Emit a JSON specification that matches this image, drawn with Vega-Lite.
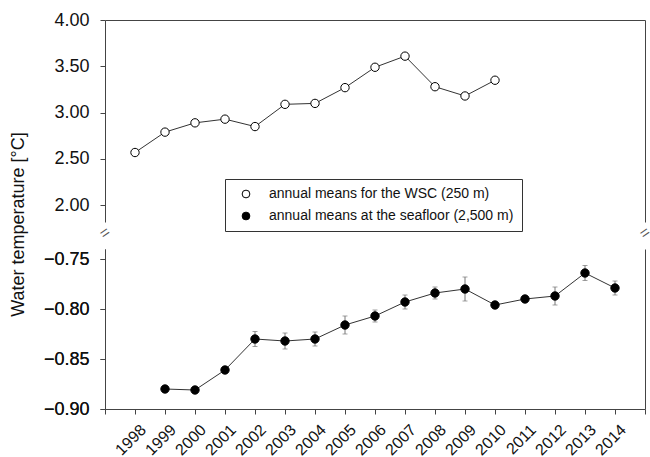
{
  "$schema": "https://vega.github.io/schema/vega-lite/v6.json",
  "padding": {"left": 9, "top": 11, "right": 0, "bottom": 0},
  "bounds": "flush",
  "spacing": 27,
  "config": {
    "view": {"stroke": null},
    "font": "Liberation Sans",
    "axis": {
      "labelFont": "Liberation Sans",
      "titleFont": "Liberation Sans",
      "labelColor": "#111",
      "titleColor": "#111",
      "domain": true,
      "domainColor": "#444",
      "domainWidth": 1,
      "tickColor": "#444",
      "grid": false,
      "labelFontSize": 18,
      "titleFontSize": 18,
      "titleFontWeight": "normal",
      "tickSize": 5,
      "labelOverlap": false,
      "labelBound": false,
      "labelFlush": false
    }
  },
  "datasets": {
    "wsc": [
      {"year": 1998, "temp": 2.57, "series": "annual means for the WSC  (250 m)"},
      {"year": 1999, "temp": 2.79, "series": "annual means for the WSC  (250 m)"},
      {"year": 2000, "temp": 2.89, "series": "annual means for the WSC  (250 m)"},
      {"year": 2001, "temp": 2.93, "series": "annual means for the WSC  (250 m)"},
      {"year": 2002, "temp": 2.85, "series": "annual means for the WSC  (250 m)"},
      {"year": 2003, "temp": 3.09, "series": "annual means for the WSC  (250 m)"},
      {"year": 2004, "temp": 3.10, "series": "annual means for the WSC  (250 m)"},
      {"year": 2005, "temp": 3.27, "series": "annual means for the WSC  (250 m)"},
      {"year": 2006, "temp": 3.49, "series": "annual means for the WSC  (250 m)"},
      {"year": 2007, "temp": 3.61, "series": "annual means for the WSC  (250 m)"},
      {"year": 2008, "temp": 3.28, "series": "annual means for the WSC  (250 m)"},
      {"year": 2009, "temp": 3.18, "series": "annual means for the WSC  (250 m)"},
      {"year": 2010, "temp": 3.35, "series": "annual means for the WSC  (250 m)"}
    ],
    "floor": [
      {"year": 1999, "temp": -0.880, "err": 0, "series": "annual means at the seafloor (2,500 m)"},
      {"year": 2000, "temp": -0.881, "err": 0, "series": "annual means at the seafloor (2,500 m)"},
      {"year": 2001, "temp": -0.861, "err": 0, "series": "annual means at the seafloor (2,500 m)"},
      {"year": 2002, "temp": -0.830, "err": 0.0075, "series": "annual means at the seafloor (2,500 m)"},
      {"year": 2003, "temp": -0.832, "err": 0.008, "series": "annual means at the seafloor (2,500 m)"},
      {"year": 2004, "temp": -0.830, "err": 0.007, "series": "annual means at the seafloor (2,500 m)"},
      {"year": 2005, "temp": -0.816, "err": 0.009, "series": "annual means at the seafloor (2,500 m)"},
      {"year": 2006, "temp": -0.807, "err": 0.006, "series": "annual means at the seafloor (2,500 m)"},
      {"year": 2007, "temp": -0.793, "err": 0.007, "series": "annual means at the seafloor (2,500 m)"},
      {"year": 2008, "temp": -0.784, "err": 0.006, "series": "annual means at the seafloor (2,500 m)"},
      {"year": 2009, "temp": -0.780, "err": 0.012, "series": "annual means at the seafloor (2,500 m)"},
      {"year": 2010, "temp": -0.796, "err": 0, "series": "annual means at the seafloor (2,500 m)"},
      {"year": 2011, "temp": -0.790, "err": 0, "series": "annual means at the seafloor (2,500 m)"},
      {"year": 2012, "temp": -0.787, "err": 0.009, "series": "annual means at the seafloor (2,500 m)"},
      {"year": 2013, "temp": -0.764, "err": 0.0075, "series": "annual means at the seafloor (2,500 m)"},
      {"year": 2014, "temp": -0.779, "err": 0.007, "series": "annual means at the seafloor (2,500 m)"}
    ],
    "breaks": [{"year": 1997}, {"year": 2015}]
  },
  "resolve": {"scale": {"y": "independent", "x": "independent"}, "legend": {"fill": "shared"}},
  "vconcat": [
    {
      "width": 540,
      "height": 202,
      "data": {"name": "wsc"},
      "encoding": {
        "x": {"field": "year", "type": "quantitative", "scale": {"domain": [1997, 2015], "nice": false, "zero": false},
              "axis": {"orient": "top", "labels": false, "ticks": false, "domain": true, "title": null, "labelOverlap": false}},
        "y": {"field": "temp", "type": "quantitative", "scale": {"domain": [1.82, 4.0], "nice": false, "zero": false},
              "axis": {"values": [2, 2.5, 3, 3.5, 4], "format": ".2f", "labelPadding": 11, "title": "Water temperature [°C]", "titleY": 204, "titlePadding": 26}}
      },
      "resolve": {"axis": {"y": "independent"}},
      "layer": [
        {"mark": {"type": "line", "color": "#333", "strokeWidth": 1}},
        {
          "mark": {"type": "point", "filled": true, "size": 70, "stroke": "black", "strokeWidth": 1, "opacity": 1},
          "encoding": {
            "y": {"field": "temp", "type": "quantitative", "axis": null},
            "fill": {"field": "series", "type": "nominal",
                     "scale": {"domain": ["annual means for the WSC  (250 m)", "annual means at the seafloor (2,500 m)"], "range": ["white", "black"]},
                     "legend": {"orient": "none", "legendX": 120, "legendY": 159, "title": null, "padding": 8, "strokeColor": "#333", "fillColor": "white",
                                "labelFont": "Liberation Sans", "labelFontSize": 14, "labelColor": "#111", "labelLimit": 0, "symbolType": "circle", "symbolSize": 60,
                                "symbolStrokeColor": "black", "symbolStrokeWidth": 1, "symbolOffset": 6, "labelOffset": 16, "rowPadding": 8}}
          }
        },
        {
          "mark": {"type": "point", "opacity": 0},
          "encoding": {
            "y": {"field": "temp", "type": "quantitative",
                  "axis": {"orient": "right", "labels": false, "ticks": false, "domain": true, "title": null, "grid": false}}
          }
        }
      ]
    },
    {
      "width": 540,
      "height": 160,
      "layer": [
        {
          "data": {"name": "floor"},
          "encoding": {
            "x": {"field": "year", "type": "quantitative", "scale": {"domain": [1997, 2015], "nice": false, "zero": false},
                  "axis": {"values": [1997, 1998, 1999, 2000, 2001, 2002, 2003, 2004, 2005, 2006, 2007, 2008, 2009, 2010, 2011, 2012, 2013, 2014, 2015],
                           "format": "d", "labelExpr": "datum.value == 1997 || datum.value == 2015 ? '' : datum.label",
                           "labelAngle": -45, "labelAlign": "right", "labelBaseline": "middle", "labelFontSize": 16, "labelPadding": 13, "labelOffset": 8,
                           "labelOverlap": false, "labelBound": false, "labelFlush": false, "ticks": true, "domain": true, "title": null}},
            "y": {"field": "temp", "type": "quantitative", "scale": {"domain": [-0.9, -0.74], "nice": false, "zero": false},
                  "axis": {"values": [-0.9, -0.85, -0.8, -0.75], "format": ".2f", "labelPadding": 11, "title": null}}
          },
          "resolve": {"axis": {"y": "independent"}},
          "layer": [
            {"mark": {"type": "line", "color": "#333", "strokeWidth": 1}},
            {
              "mark": {"type": "errorbar", "ticks": {"size": 5, "color": "#777"}, "color": "#777", "thickness": 1},
              "encoding": {
                "y": {"field": "temp", "type": "quantitative", "axis": null},
                "yError": {"field": "err"}
              }
            },
            {
              "mark": {"type": "point", "filled": true, "size": 70, "stroke": "black", "strokeWidth": 1, "opacity": 1},
              "encoding": {
                "y": {"field": "temp", "type": "quantitative", "axis": null},
                "fill": {"field": "series", "type": "nominal"}
              }
            },
            {
              "mark": {"type": "point", "opacity": 0},
              "encoding": {
                "y": {"field": "temp", "type": "quantitative",
                      "axis": {"orient": "right", "labels": false, "ticks": false, "domain": true, "title": null, "grid": false}}
              }
            }
          ]
        },
        {
          "data": {"name": "breaks"},
          "mark": {"type": "text", "text": "=", "fontSize": 16, "angle": -35, "color": "#555", "font": "Liberation Sans"},
          "encoding": {
            "x": {"field": "year", "type": "quantitative",
                  "axis": {"values": [1997, 1998, 1999, 2000, 2001, 2002, 2003, 2004, 2005, 2006, 2007, 2008, 2009, 2010, 2011, 2012, 2013, 2014, 2015],
                           "format": "d", "labelExpr": "datum.value == 1997 || datum.value == 2015 ? '' : datum.label",
                           "labelAngle": -45, "labelAlign": "right", "labelBaseline": "middle", "labelFontSize": 16, "labelPadding": 13, "labelOffset": 8,
                           "labelOverlap": false, "labelBound": false, "labelFlush": false, "ticks": true, "domain": true, "title": null}},
            "y": {"datum": -0.724, "type": "quantitative",
                  "axis": {"values": [-0.9, -0.85, -0.8, -0.75], "format": ".2f", "labelPadding": 11, "title": null}}
          }
        }
      ]
    }
  ]
}
